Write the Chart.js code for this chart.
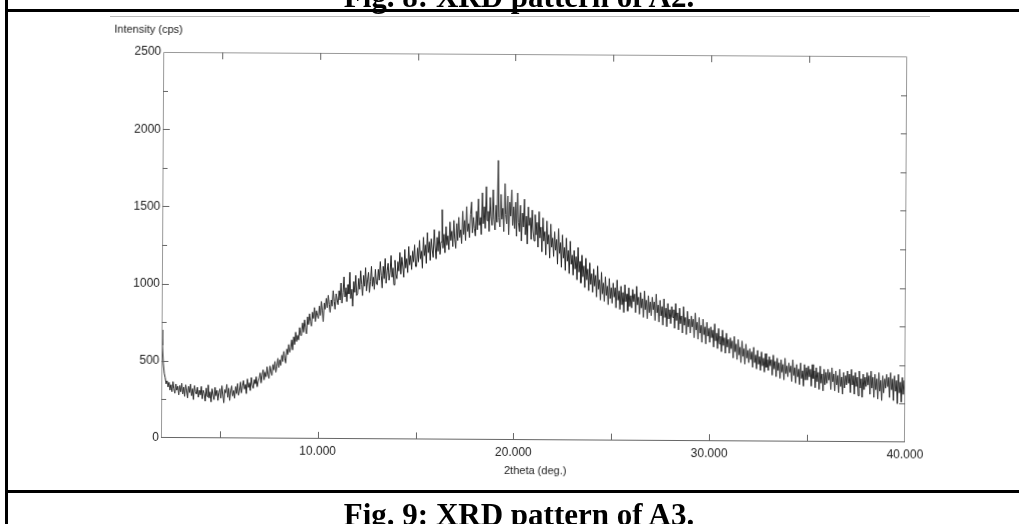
<!DOCTYPE html>
<html>
<head>
<meta charset="utf-8">
<script src="https://cdn.jsdelivr.net/npm/chart.js@4.4.0/dist/chart.umd.min.js"></script>
<style>
html, body { margin: 0; padding: 0; background: #fff; }
#page { position: relative; width: 1019px; height: 524px; overflow: hidden; background: #fff; }
#xrdChart { position: absolute; left: 0; top: 0; transform: rotate(0.34deg); }
.rule { position: absolute; background: #000; }
.scanline { position: absolute; background: #bbb; height: 1px; }
.cap { position: absolute; left: 0; width: 1038px; text-align: center; line-height: 31px;
       font: bold 31px "Liberation Serif", "Times New Roman", serif; color: #000; white-space: nowrap; }
</style>
</head>
<body>
<div id="page">
  <canvas id="xrdChart" width="1019" height="524"></canvas>
  <div class="cap" style="top:-21px">Fig. 8: XRD pattern of A2.</div>
  <div class="scanline" style="left:110px; top:16px; width:820px"></div>
  <div class="rule" style="left:5px; top:0; width:3px; height:524px"></div>
  <div class="rule" style="left:5px; top:9px; width:1014px; height:3px"></div>
  <div class="rule" style="left:5px; top:490px; width:1014px; height:3px"></div>
  <div class="cap" style="top:497px">Fig. 9: XRD pattern of A3.</div>
</div>
<script>
// scan: 2theta from 2 to 40 deg, one reading every 0.05 deg
var START_ANGLE = 2.0;
var STEP = 0.05;

// intensity (cps), one row per degree (2.00 ... 2.95, 3.00 ... )
var intensity = [
    700, 600, 480, 420, 390, 350, 370, 330, 360, 310, 345, 300, 365, 320, 290, 350, 310, 335, 280, 340,
    300, 355, 285, 330, 270, 345, 310, 260, 335, 295, 350, 275, 320, 250, 340, 300, 285, 330, 265, 310,
    280, 335, 255, 310, 290, 240, 325, 270, 345, 260, 300, 235, 320, 285, 250, 330, 275, 310, 245, 295,
    320, 260, 340, 285, 230, 315, 295, 350, 265, 325, 245, 305, 340, 275, 310, 260, 335, 290, 355, 280,
    310, 365, 295, 340, 375, 320, 350, 290, 385, 330, 360, 310, 395, 345, 325, 380, 355, 400, 335, 370,
    390, 425, 360, 410, 445, 380, 430, 400, 465, 415, 390, 470, 435, 410, 480, 445, 500, 430, 470, 520,
    460, 510, 475, 540, 500, 565, 520, 490, 580, 545, 610, 560, 590, 640, 575, 660, 610, 690, 630, 670,
    640, 720, 670, 700, 750, 690, 770, 720, 680, 790, 740, 810, 760, 730, 820, 780, 850, 760, 830, 800,
    780, 860, 800, 890, 830, 760, 880, 840, 910, 850, 930, 870, 820, 900, 860, 960, 890, 840, 940, 900,
    870, 960, 900, 1010, 880, 950, 1050, 920, 980, 890, 1000, 940, 1080, 910, 970, 860, 1020, 950, 1060, 930,
    940, 1040, 970, 1090, 1000, 930, 1060, 990, 1110, 960, 1030, 1080, 950, 1020, 1120, 990, 1050, 970, 1100, 1010,
    1000, 1100, 1030, 1150, 1060, 980, 1120, 1040, 1170, 1010, 1090, 1140, 1030, 1080, 1190, 1050, 1110, 1000, 1160, 1070,
    1040, 1150, 1090, 1210, 1070, 1180, 1120, 1050, 1230, 1110, 1170, 1080, 1250, 1130, 1190, 1100, 1220, 1150, 1260, 1120,
    1120, 1240, 1150, 1290, 1170, 1220, 1110, 1310, 1190, 1260, 1140, 1340, 1210, 1280, 1160, 1300, 1230, 1180, 1360, 1250,
    1170, 1310, 1220, 1350, 1200, 1280, 1490, 1240, 1330, 1210, 1380, 1260, 1320, 1230, 1410, 1290, 1350, 1250, 1420, 1300,
    1240, 1400, 1290, 1440, 1310, 1360, 1270, 1480, 1330, 1420, 1290, 1510, 1350, 1400, 1310, 1460, 1540, 1340, 1440, 1370,
    1320, 1480, 1360, 1560, 1390, 1440, 1330, 1600, 1400, 1510, 1370, 1640, 1420, 1480, 1350, 1570, 1450, 1390, 1620, 1430,
    1360, 1520, 1410, 1810, 1440, 1380, 1590, 1430, 1500, 1350, 1660, 1460, 1400, 1580, 1330, 1540, 1450, 1620, 1390, 1510,
    1370, 1540, 1320, 1600, 1410, 1350, 1520, 1290, 1470, 1380, 1560, 1330, 1450, 1270, 1510, 1390, 1440, 1300, 1490, 1360,
    1290, 1460, 1330, 1410, 1250, 1480, 1310, 1380, 1220, 1440, 1290, 1350, 1200, 1420, 1270, 1330, 1180, 1400, 1250, 1310,
    1190, 1350, 1230, 1300, 1140, 1370, 1210, 1280, 1120, 1330, 1180, 1250, 1100, 1310, 1160, 1230, 1080, 1290, 1140, 1200,
    1070, 1230, 1110, 1190, 1040, 1250, 1090, 1160, 1020, 1200, 1060, 1130, 990, 1180, 1040, 1110, 970, 1150, 1010, 1080,
    960, 1110, 1000, 1070, 930, 1130, 980, 1040, 910, 1090, 950, 1020, 900, 1060, 940, 1000, 880, 1050, 920, 990,
    890, 1020, 930, 990, 860, 1040, 910, 970, 850, 1000, 880, 960, 830, 1010, 900, 950, 840, 990, 870, 940,
    860, 980, 900, 950, 830, 1000, 880, 930, 820, 960, 860, 920, 800, 970, 850, 910, 790, 940, 830, 900,
    810, 930, 850, 900, 780, 950, 830, 880, 770, 910, 810, 870, 750, 920, 800, 860, 740, 890, 790, 850,
    760, 870, 800, 850, 730, 890, 780, 830, 720, 860, 760, 810, 700, 870, 750, 800, 690, 840, 740, 790,
    700, 810, 740, 790, 670, 830, 720, 770, 660, 800, 700, 750, 640, 790, 690, 740, 630, 770, 680, 730,
    640, 740, 670, 720, 610, 760, 650, 700, 600, 730, 630, 680, 580, 720, 620, 670, 570, 700, 610, 660,
    570, 670, 600, 650, 540, 680, 580, 630, 530, 660, 560, 610, 510, 650, 550, 600, 500, 630, 540, 590,
    510, 600, 530, 580, 480, 610, 510, 560, 470, 590, 500, 550, 460, 580, 490, 540, 450, 570, 480, 530,
    460, 550, 490, 530, 430, 560, 470, 520, 420, 540, 460, 510, 410, 530, 450, 500, 400, 540, 440, 490,
    420, 510, 450, 490, 390, 530, 430, 480, 380, 500, 420, 470, 370, 510, 410, 460, 360, 500, 400, 480,
    400, 490, 420, 470, 360, 500, 410, 460, 350, 480, 390, 450, 340, 490, 380, 440, 330, 470, 370, 450,
    380, 470, 400, 450, 340, 480, 390, 440, 330, 460, 370, 430, 320, 470, 360, 420, 310, 450, 350, 430,
    370, 460, 380, 440, 320, 470, 370, 430, 310, 450, 360, 420, 300, 460, 350, 410, 290, 440, 340, 420,
    360, 450, 370, 430, 310, 460, 350, 420, 290, 440, 340, 410, 280, 450, 330, 400, 270, 430, 320, 410,
    350, 440, 360, 420, 290, 450, 340, 410, 270, 430, 330, 400, 250, 440, 320, 390, 260, 420, 310, 400,
    340
];

var xTickValues = [10, 20, 30, 40];
var xMinorTicks = [5, 10, 15, 20, 25, 30, 35];
var yTickValues = [0, 500, 1000, 1500, 2000, 2500];
var yMinorTicks = [250, 500, 750, 1000, 1250, 1500, 1750, 2000, 2250];

var points = intensity.map(function(v, i) {
    return { x: START_ANGLE + i * STEP, y: v };
});

var labelFont = { family: "'Liberation Sans', Arial, sans-serif", size: 12 };

// box round the plot and the small inward ticks, plus the two axis titles
var framePlugin = {
    id: 'frame',
    afterDraw: function(chart) {
        var ctx = chart.ctx;
        var a = chart.chartArea;
        var x = chart.scales.x, y = chart.scales.y;
        ctx.save();
        ctx.lineWidth = 1;
        ctx.strokeStyle = '#999';
        ctx.beginPath();
        ctx.moveTo(a.left + 0.5, a.bottom);
        ctx.lineTo(a.left + 0.5, a.top + 0.5);
        ctx.lineTo(a.right - 0.5, a.top + 0.5);
        ctx.lineTo(a.right - 0.5, a.bottom);
        ctx.stroke();
        ctx.strokeStyle = '#666';
        ctx.beginPath();
        ctx.moveTo(a.left, a.bottom - 0.5);
        ctx.lineTo(a.right, a.bottom - 0.5);
        xMinorTicks.forEach(function(v) {
            var px = Math.round(x.getPixelForValue(v)) + 0.5;
            ctx.moveTo(px, a.bottom);
            ctx.lineTo(px, a.bottom - 7);
            ctx.moveTo(px, a.top);
            ctx.lineTo(px, a.top + 7);
        });
        yMinorTicks.forEach(function(v) {
            var py = Math.round(y.getPixelForValue(v)) + 0.5;
            var len = (v % 500 === 0) ? 7 : 5;
            ctx.moveTo(a.left, py);
            ctx.lineTo(a.left + len, py);
            ctx.moveTo(a.right, py);
            ctx.lineTo(a.right - 6, py);
        });
        ctx.stroke();

        ctx.fillStyle = '#222';
        ctx.font = "11px 'Liberation Sans', Arial, sans-serif";
        ctx.textBaseline = 'middle';
        ctx.textAlign = 'left';
        ctx.fillText('Intensity (cps)', 113, 32);
        ctx.textAlign = 'center';
        ctx.fillText('2theta (deg.)', x.getPixelForValue(20) + 22, 471);
        ctx.restore();
    }
};

var xrdChart = new Chart(document.getElementById('xrdChart').getContext('2d'), {
    type: 'line',
    data: {
        datasets: [{
            data: points,
            borderColor: '#262626',
            borderWidth: 1,
            pointRadius: 0,
            tension: 0,
            fill: false
        }]
    },
    options: {
        responsive: false,
        animation: false,
        parsing: false,
        layout: { padding: { left: 0, top: 54, right: 113, bottom: 0 } },
        plugins: { legend: { display: false }, tooltip: { enabled: false }, title: { display: false } },
        scales: {
            x: {
                type: 'linear',
                min: 2,
                max: 40,
                grid: { display: false, drawTicks: false },
                border: { display: false },
                afterBuildTicks: function(scale) {
                    scale.ticks = xTickValues.map(function(v) { return { value: v }; });
                },
                afterFit: function(scale) { scale.height = 84; },
                ticks: {
                    autoSkip: false,
                    maxRotation: 0,
                    padding: 5,
                    color: '#222',
                    font: labelFont,
                    callback: function(v) { return Number(v).toFixed(3); }
                }
            },
            y: {
                min: 0,
                max: 2500,
                grid: { display: false, drawTicks: false },
                border: { display: false },
                afterBuildTicks: function(scale) {
                    scale.ticks = yTickValues.map(function(v) { return { value: v }; });
                },
                afterFit: function(scale) { scale.width = 162; },
                ticks: {
                    padding: 2,
                    color: '#222',
                    font: labelFont,
                    callback: function(v) { return String(v); }
                }
            }
        }
    },
    plugins: [framePlugin]
});
</script>
</body>
</html>
